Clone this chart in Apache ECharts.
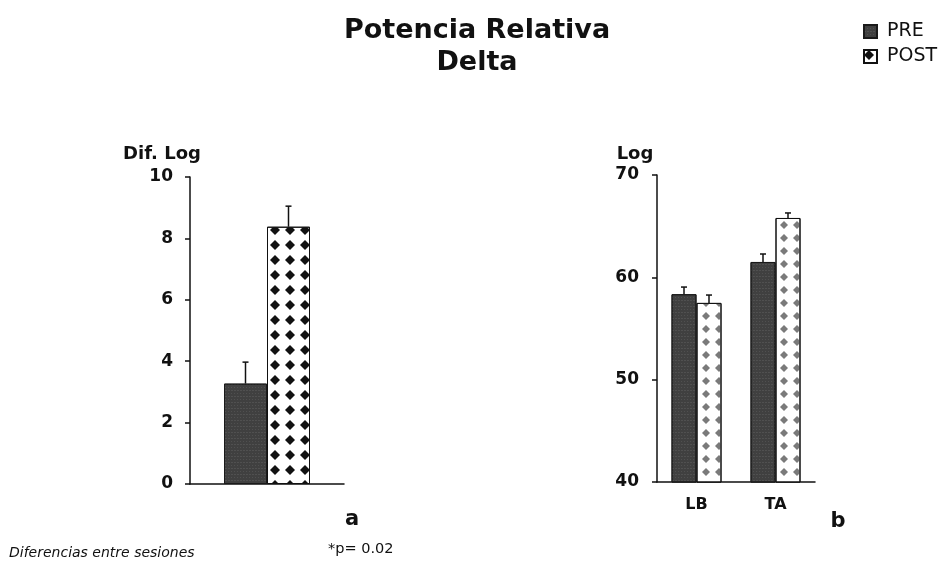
<!DOCTYPE html>
<html><head><meta charset="utf-8">
<script src="https://cdn.jsdelivr.net/npm/echarts@6/dist/echarts.min.js"></script>
<style>html,body{margin:0;padding:0;background:#fff}#c{width:948px;height:563px}</style>
</head><body><div id="c"></div>
<script>
// ---- data ----
const seriesNames = ['PRE', 'POST'];
const leftCategories = [''];
const leftPre = [3.27];
const leftPreErr = [0.70];
const leftPost = [8.38];
const leftPostErr = [0.67];
const leftTicks = [0, 2, 4, 6, 8, 10];

const rightCategories = ['LB', 'TA'];
const rightPre = [58.35, 61.5];
const rightPreErr = [0.70, 0.78];
const rightPost = [57.5, 65.8];
const rightPostErr = [0.77, 0.49];
const rightTicks = [40, 50, 60, 70];

const FONT = 'DejaVu Sans';
const chart = echarts.init(document.getElementById('c'), null, {renderer: 'canvas'});

const preStyle = {
  color: '#404040',
  borderColor: '#1a1a1a', borderWidth: 1,
  decal: {symbol: 'rect', symbolSize: 0.6, dashArrayX: [[1, 2], [2, 1]], dashArrayY: [1, 1.5], color: 'rgba(175,175,175,0.5)', rotation: 0}
};
const postStyleL = {
  color: '#ffffff', borderColor: '#111', borderWidth: 1,
  decal: {symbol: 'diamond', symbolSize: 1, dashArrayX: [10, 5], dashArrayY: [10, 4.5], color: '#111', rotation: 0}
};
const postStyleR = {
  color: '#ffffff', borderColor: '#111', borderWidth: 1,
  decal: {symbol: 'diamond', symbolSize: 1, dashArrayX: [8, 5], dashArrayY: [8, 5], color: '#7a7a7a', rotation: 0}
};

function errSeries(name, grid, vals, errs, side, bw) {
  return {
    type: 'custom', name: name + ' err', xAxisIndex: grid, yAxisIndex: grid, z: 5,
    data: vals.map((v, i) => [i, v, errs[i]]),
    renderItem: function (params, api) {
      const base = api.coord([api.value(0), api.value(1)]);
      const top = api.coord([api.value(0), api.value(1) + api.value(2)]);
      const x = base[0] + side * bw / 2;
      return {type: 'group', children: [
        {type: 'line', shape: {x1: x, y1: base[1], x2: x, y2: top[1]}, style: {stroke: '#111', lineWidth: 1.5}},
        {type: 'line', shape: {x1: x - 3, y1: top[1], x2: x + 3, y2: top[1]}, style: {stroke: '#111', lineWidth: 1.5}}
      ]};
    }
  };
}

const axisLabelStyle = {color: '#111', fontFamily: FONT, fontWeight: 'bold', fontSize: 17};

const option = {
  animation: false,
  backgroundColor: '#fff',
  title: [
    {text: 'Potencia Relativa\nDelta', left: 477, top: 15, padding: 0, textAlign: 'center',
     textStyle: {fontFamily: FONT, fontWeight: 'bold', fontSize: 27, lineHeight: 32, color: '#111'}},
    {text: 'a', left: 352, top: 509, padding: 0, textAlign: 'center', textStyle: {fontFamily: FONT, fontWeight: 'bold', fontSize: 21, color: '#111'}},
    {text: 'b', left: 838, top: 511, padding: 0, textAlign: 'center', textStyle: {fontFamily: FONT, fontWeight: 'bold', fontSize: 21, color: '#111'}},
    {text: 'Diferencias entre sesiones', left: 9, top: 546, padding: 0, textStyle: {fontFamily: FONT, fontStyle: 'italic', fontWeight: 'normal', fontSize: 14, color: '#111'}},
    {text: '*p= 0.02', left: 328, top: 542, padding: 0, textStyle: {fontFamily: FONT, fontWeight: 'normal', fontSize: 14.5, color: '#111'}}
  ],
  legend: {
    orient: 'vertical', left: 863, top: 22, padding: 0, itemWidth: 13, itemHeight: 13, itemGap: 6,
    data: seriesNames, icon: 'rect',
    textStyle: {fontFamily: FONT, fontSize: 19, color: '#111', padding: [0, 0, 0, 5]}
  },
  grid: [
    {left: 190, top: 177, width: 154, height: 307},
    {left: 657, top: 175, width: 158, height: 307}
  ],
  xAxis: [
    {gridIndex: 0, type: 'category', data: leftCategories,
     axisLine: {lineStyle: {color: '#111', width: 1.5}}, axisTick: {show: false}, axisLabel: {show: false}},
    {gridIndex: 1, type: 'category', data: rightCategories,
     axisLine: {lineStyle: {color: '#111', width: 1.5}}, axisTick: {show: false},
     axisLabel: Object.assign({margin: 15}, axisLabelStyle, {fontSize: 16})}
  ],
  yAxis: [
    {gridIndex: 0, type: 'value', min: leftTicks[0], max: leftTicks[leftTicks.length - 1], interval: 2,
     name: 'Dif. Log', nameLocation: 'end', nameGap: 14,
     nameTextStyle: {fontFamily: FONT, fontWeight: 'bold', fontSize: 18, color: '#111', padding: [0, 56, 0, 0]},
     axisLine: {show: true, lineStyle: {color: '#111', width: 1.5}},
     axisTick: {show: true, length: 5, lineStyle: {color: '#111', width: 1.5}},
     splitLine: {show: false}, axisLabel: Object.assign({margin: 17}, axisLabelStyle)},
    {gridIndex: 1, type: 'value', min: rightTicks[0], max: rightTicks[rightTicks.length - 1], interval: 10,
     name: 'Log', nameLocation: 'end', nameGap: 12,
     nameTextStyle: {fontFamily: FONT, fontWeight: 'bold', fontSize: 18, color: '#111', padding: [0, 44, 0, 0]},
     axisLine: {show: true, lineStyle: {color: '#111', width: 1.5}},
     axisTick: {show: true, length: 5, lineStyle: {color: '#111', width: 1.5}},
     splitLine: {show: false}, axisLabel: Object.assign({margin: 18}, axisLabelStyle)}
  ],
  series: [
    {type: 'bar', name: 'PRE', xAxisIndex: 0, yAxisIndex: 0, data: leftPre, barWidth: 43, barGap: '0%', itemStyle: preStyle},
    {type: 'bar', name: 'POST', xAxisIndex: 0, yAxisIndex: 0, data: leftPost, barWidth: 43, barGap: '0%', itemStyle: postStyleL},
    {type: 'bar', name: 'PRE', xAxisIndex: 1, yAxisIndex: 1, data: rightPre, barWidth: 25, barGap: '0%', itemStyle: preStyle},
    {type: 'bar', name: 'POST', xAxisIndex: 1, yAxisIndex: 1, data: rightPost, barWidth: 25, barGap: '0%', itemStyle: postStyleR},
    errSeries('PRE', 0, leftPre, leftPreErr, -1, 43),
    errSeries('POST', 0, leftPost, leftPostErr, 1, 43),
    errSeries('PRE', 1, rightPre, rightPreErr, -1, 25),
    errSeries('POST', 1, rightPost, rightPostErr, 1, 25)
  ]
};
chart.setOption(option);
</script></body></html>
